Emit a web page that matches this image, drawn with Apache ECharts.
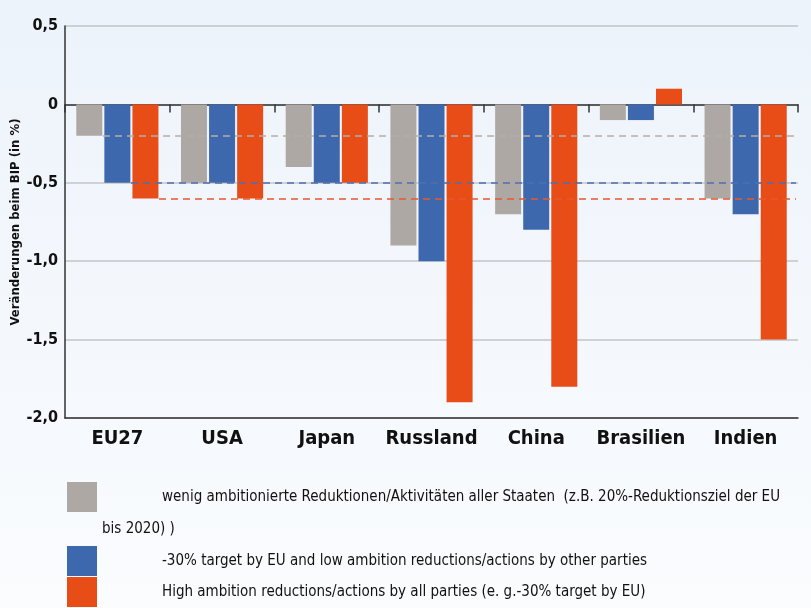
<!DOCTYPE html>
<html>
<head>
<meta charset="utf-8">
<script src="https://cdn.jsdelivr.net/npm/echarts@6/dist/echarts.min.js"></script>
<style>
  html, body { margin: 0; padding: 0; }
  #chart { width: 811px; height: 608px; }
</style>
</head>
<body>
<div id="chart"></div>
<script>
// Daten
const categories = ['EU27', 'USA', 'Japan', 'Russland', 'China', 'Brasilien', 'Indien']
const lowAmbition = [-0.2, -0.5, -0.4, -0.9, -0.7, -0.1, -0.6]
const euTarget = [-0.5, -0.5, -0.5, -1.0, -0.8, -0.1, -0.7]
const highAmbition = [-0.6, -0.6, -0.5, -1.9, -1.8, 0.1, -1.5]
// Referenzlinien (EU27-Werte)
const refLines = [-0.2, -0.5, -0.6]
const seriesNames = [
  'wenig ambitionierte Reduktionen/Aktivitäten aller Staaten  (z.B. 20%-Reduktionsziel der EU\nbis 2020) )',
  '-30% target by EU and low ambition reductions/actions by other parties',
  'High ambition reductions/actions by all parties (e. g.-30% target by EU)'
]
const colors = ['#ada8a4', '#3e68ad', '#e84c17']
const dashColors = ['#b3ada9', '#4d6fae', '#e8582b']

const FONT = "'Liberation Sans Narrow', 'DejaVu Sans Condensed', sans-serif"

const chart = echarts.init(document.getElementById('chart'))

// Start der Referenzlinien (rechte Kante der EU27-Balken)
const dashStart = [103, 131, 159]

function makeSeries(idx, data) {
  return {
    name: seriesNames[idx],
    type: 'bar',
    xAxisIndex: 0,
    data: data,
    barWidth: 26,
    barGap: '8%',
    itemStyle: { color: colors[idx] },
    silent: true,
    markLine: {
      silent: true,
      symbol: 'none',
      label: { show: false },
      lineStyle: { color: dashColors[idx], type: [7, 5], width: 1.5 },
      data: [[
        { x: dashStart[idx], yAxis: refLines[idx] },
        { x: 796, yAxis: refLines[idx] }
      ]]
    }
  }
}

const option = {
  backgroundColor: {
    type: 'linear', x: 0, y: 0, x2: 0, y2: 1,
    colorStops: [
      { offset: 0, color: '#edf3fb' },
      { offset: 1, color: '#fafcfe' }
    ]
  },
  animation: false,
  textStyle: { fontFamily: FONT },
  grid: { left: 65, right: 13, top: 26, bottom: 190, outerBoundsMode: 'none' },
  legend: {
    orient: 'vertical',
    left: 67,
    top: 449,
    padding: 0,
    itemGap: 1,
    itemWidth: 30,
    itemHeight: 30,
    icon: 'rect',
    selectedMode: false,
    formatter: name => '{ind|}' + name,
    textStyle: {
      fontFamily: FONT,
      fontSize: 15,
      color: '#111',
      lineHeight: 30,
      rich: { ind: { width: 60 } }
    },
    data: [
      { name: seriesNames[0], textStyle: { lineHeight: 32, padding: [32, 0, 0, 0] } },
      { name: seriesNames[1] },
      { name: seriesNames[2] }
    ]
  },
  xAxis: [
    {
      type: 'category',
      data: categories,
      position: 'bottom',
      axisLine: { onZero: false, lineStyle: { color: '#333', width: 1.5 } },
      axisTick: { show: false },
      axisLabel: {
        interval: 0,
        fontFamily: FONT, fontSize: 20, fontWeight: 'bold', color: '#111', margin: 11
      }
    },
    {
      type: 'category',
      data: categories,
      position: 'top',
      axisLine: { onZero: true, lineStyle: { color: '#333', width: 1.5 } },
      axisTick: { show: true, inside: true, length: 8, lineStyle: { color: '#333', width: 1.5 } },
      axisLabel: { show: false }
    }
  ],
  yAxis: {
    type: 'value',
    min: -2,
    max: 0.5,
    interval: 0.5,
    name: 'Veränderungen beim BIP (in %)',
    nameLocation: 'middle',
    nameGap: 43,
    nameMoveOverlap: false,
    nameTextStyle: { fontFamily: FONT, fontSize: 13, fontWeight: 'bold', color: '#111' },
    axisLine: { show: true, lineStyle: { color: '#333', width: 1.5 } },
    axisTick: { show: false },
    splitLine: { lineStyle: { color: '#c4c4c4', width: 1.5 } },
    axisLabel: {
      fontFamily: FONT, fontSize: 16, fontWeight: 'bold', color: '#111', margin: 7,
      formatter: v => v === 0 ? '0' : v.toFixed(1).replace('.', ',')
    }
  },
  series: [
    makeSeries(0, lowAmbition),
    makeSeries(1, euTarget),
    makeSeries(2, highAmbition)
  ]
}

chart.setOption(option)
</script>
</body>
</html>
